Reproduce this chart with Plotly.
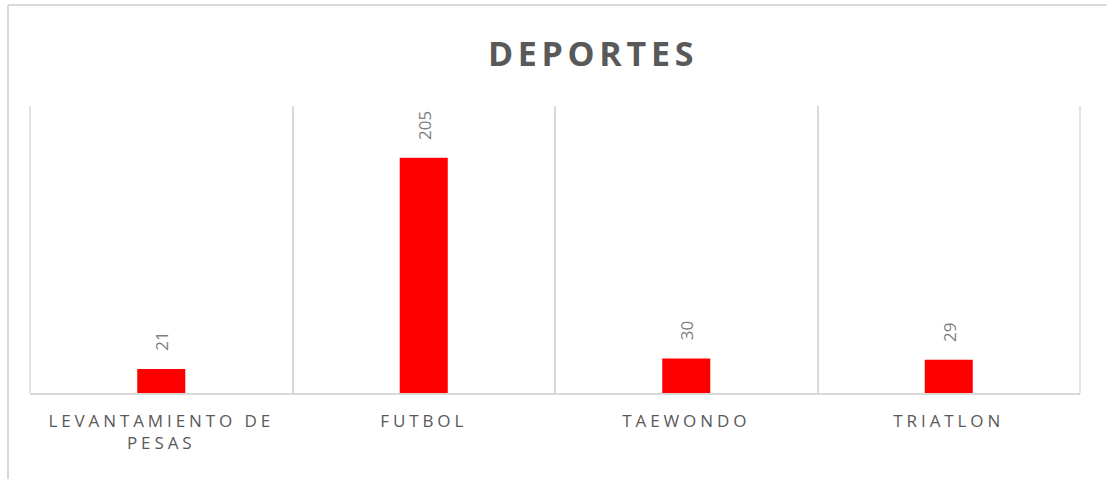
import plotly.graph_objects as go

categories = ["LEVANTAMIENTO DE<br>PESAS", "FUTBOL", "TAEWONDO", "TRIATLON"]
values = [21, 205, 30, 29]
title_text = "DEPORTES"

W, H = 1107, 479
ml, mr, mt, mb = 30, 27, 106, 86
pw = W - ml - mr
ph = H - mt - mb

def px_x(x):
    return (x - ml) / pw

def px_y(y):
    return (H - mb - y) / ph

fig = go.Figure()
fig.add_trace(go.Bar(
    x=categories, y=values,
    marker=dict(color="#ff0000", line=dict(width=0)),
    width=0.183,
    hoverinfo="skip",
))

for c, v in zip(categories, values):
    fig.add_annotation(x=c, y=v, text=str(v), textangle=-90, showarrow=False,
                       xanchor="center", yanchor="bottom", yshift=16,
                       font=dict(family="Open Sans", size=17, color="#7f7f7f"))

gridc = "#d9d9d9"
fig.update_layout(
    width=W, height=H,
    margin=dict(l=ml, r=mr, t=mt, b=mb),
    paper_bgcolor="white", plot_bgcolor="white",
    showlegend=False,
    font=dict(family="Open Sans", color="#595959"),
    title=dict(text="<b>" + title_text + "</b>", x=593 / W, xanchor="center",
               y=1 - 54 / H, yanchor="middle",
               font=dict(family="Open Sans", size=34, color="#595959")),
    xaxis=dict(showgrid=True, gridcolor=gridc, gridwidth=1.5, tickson="boundaries",
               showline=True, linecolor=gridc, linewidth=1.5,
               ticks="", tickfont=dict(family="Open Sans", size=17, color="#595959"),
               ticklabelstandoff=12),
    yaxis=dict(range=[0, 250], visible=False, showgrid=False, zeroline=False),
    shapes=[
        dict(type="line", xref="paper", yref="paper", x0=px_x(8), x1=px_x(1110), y0=px_y(5), y1=px_y(5),
             line=dict(color=gridc, width=2)),
        dict(type="line", xref="paper", yref="paper", x0=px_x(8), x1=px_x(8), y0=px_y(5), y1=px_y(482),
             line=dict(color=gridc, width=2)),
        dict(type="line", xref="paper", yref="paper", x0=0, x1=0, y0=0, y1=1,
             line=dict(color=gridc, width=1.5)),
        dict(type="line", xref="paper", yref="paper", x0=1, x1=1, y0=0, y1=1,
             line=dict(color=gridc, width=1.5)),
    ],
)

post = """
document.body.style.margin='0';
var gd=document.getElementById('{plot_id}');
function sp(){
 gd.querySelectorAll('.xtick text').forEach(function(t){t.style.letterSpacing='3.9px';});
 var tt=gd.querySelector('.gtitle'); if(tt){tt.style.letterSpacing='4.7px';}
}
sp(); gd.on('plotly_afterplot', sp);
"""
fig.write_html("out.html", post_script=post, config={"displayModeBar": False})
